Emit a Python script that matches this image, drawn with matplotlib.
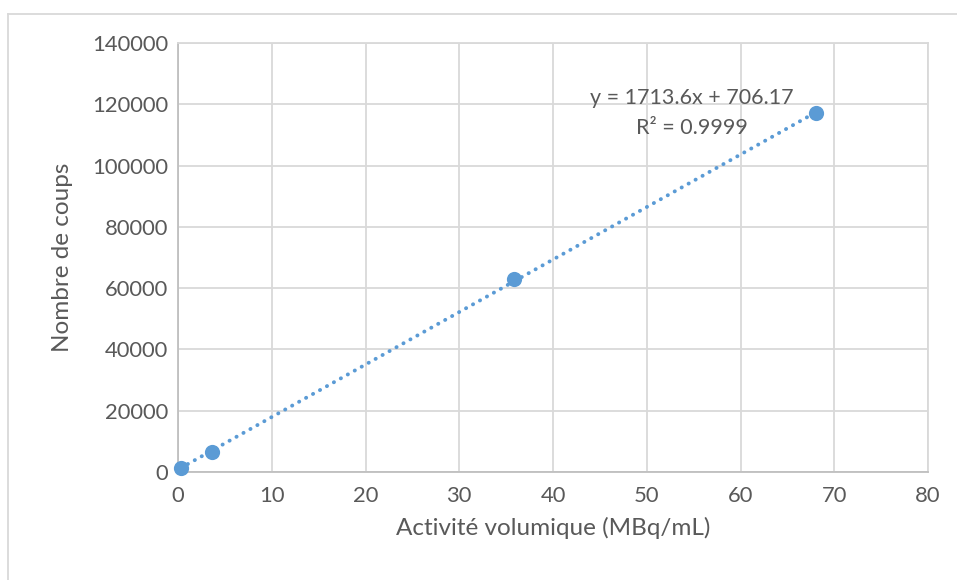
import numpy as np
import matplotlib
matplotlib.use("Agg")
import matplotlib.pyplot as plt
from matplotlib.lines import Line2D

x_vals = [0.3, 3.6, 35.8, 68.1]
y_vals = [1300, 6600, 62900, 117100]
x_ticks = [0, 10, 20, 30, 40, 50, 60, 70, 80]
y_ticks = [0, 20000, 40000, 60000, 80000, 100000, 120000, 140000]
eq_text = "y = 1713.6x + 706.17"
r2_text = "R² = 0.9999"
x_label = "Activité volumique (MBq/mL)"
y_label = "Nombre de coups"

plt.rcParams['font.family'] = ['Lato', 'DejaVu Sans']
txt = '#595959'
grid = '#d9d9d9'
blue = '#5b9bd5'

fig = plt.figure(figsize=(9.57, 5.8), dpi=100)
ax = fig.add_axes([178/957, 108/580, 750/957, 429/580])

slope, intercept = np.polyfit(x_vals, y_vals, 1)
xl = np.array([min(x_vals), max(x_vals)])
ax.plot(xl, slope*xl + intercept, linestyle=(0, (0.05, 2.0)), color=blue, lw=2.8,
        dash_capstyle='round', zorder=3)
ax.scatter(x_vals, y_vals, s=120, color=blue, zorder=4, linewidths=0, clip_on=False)

ax.set_xlim(0, 80)
ax.set_ylim(0, 140000)
ax.set_xticks(x_ticks)
ax.set_yticks(y_ticks)
ax.set_xticklabels([str(t) for t in x_ticks])
ax.set_yticklabels([str(t) for t in y_ticks])
ax.tick_params(length=0, labelsize=15.8, colors=txt, pad=7)
ax.tick_params(axis='x', pad=10)
ax.grid(True, color=grid, lw=1.3)
ax.set_axisbelow(True)
for s in ax.spines.values():
    s.set_color(grid)
    s.set_linewidth(1.3)
ax.spines['left'].set_color('#bfbfbf')
ax.spines['bottom'].set_color('#bfbfbf')

ax.set_xlabel(x_label, fontsize=17.5, color=txt, labelpad=8)
ax.set_ylabel(y_label, fontsize=17.5, color=txt, labelpad=14)

ax.text(54.8, 122000, eq_text, ha='center', va='center', fontsize=15.5, color=txt)
ax.text(54.8, 112400, r2_text, ha='center', va='center', fontsize=15.5, color=txt)

fig.add_artist(Line2D([8/957, 8/957], [0, 1 - 14/580], color=grid, lw=1.3, transform=fig.transFigure))
fig.add_artist(Line2D([8/957, 1], [1 - 14/580, 1 - 14/580], color=grid, lw=1.3, transform=fig.transFigure))

fig.savefig("out.png", dpi=100)
